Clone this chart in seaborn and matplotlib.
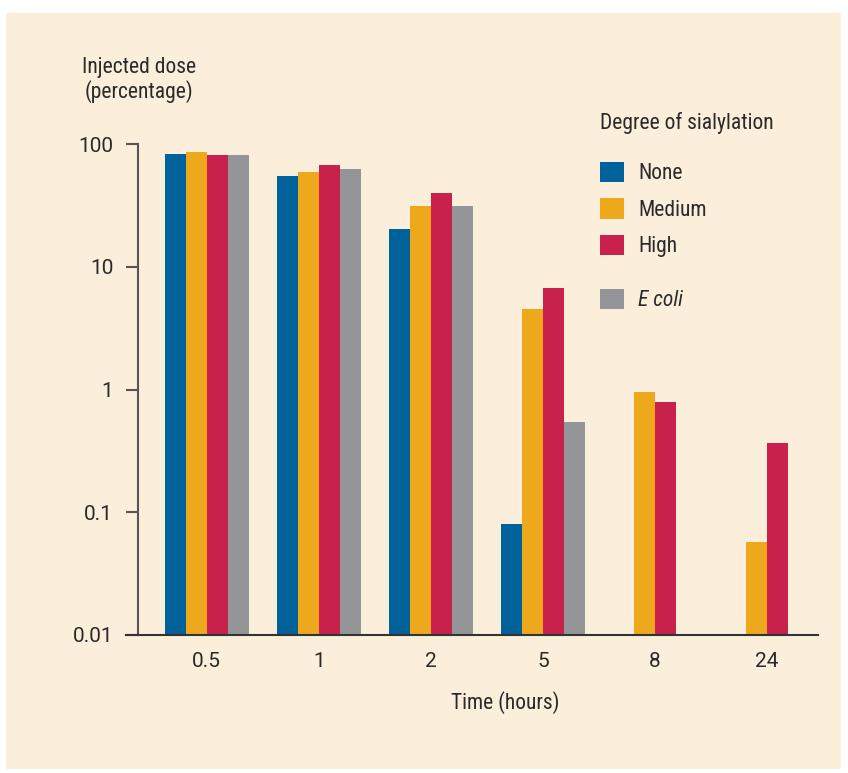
import numpy as np
import pandas as pd
import matplotlib
matplotlib.use("Agg")
import matplotlib.pyplot as plt
from matplotlib import font_manager
from matplotlib.patches import Patch, Rectangle
from matplotlib.ticker import NullLocator
import seaborn as sns

# Injected dose remaining (%) by time after injection and degree of sialylation
times = ["0.5", "1", "2", "5", "8", "24"]
groups = ["None", "Medium", "High", "E coli"]
none_vals = [83, 55, 20.3, 0.080, np.nan, np.nan]
medium_vals = [86, 59, 31, 4.5, 0.96, 0.057]
high_vals = [82, 67, 40, 6.7, 0.79, 0.37]
ecoli_vals = [81, 63, 31, 0.54, np.nan, np.nan]
y_ticks = [0.01, 0.1, 1, 10, 100]
y_tick_labels = ["0.01", "0.1", "1", "10", "100"]
colors = ["#00629B", "#EEA81B", "#C8214B", "#939598"]

CREAM = "#FBEEDA"
TEXT = "#2a2a2a"
AXIS = "#555555"

available = {f.name for f in font_manager.fontManager.ttflist}
family = next((f for f in ["Liberation Sans Narrow", "Roboto Condensed", "Liberation Sans"]
               if f in available), "DejaVu Sans")
num_family = "Roboto" if "Roboto" in available else "DejaVu Sans"

sns.set_style("white")
plt.rcParams["font.family"] = [family, "DejaVu Sans"]
FS = 15.5      # labels and legend
TICK_FS = 15   # tick labels
FS_PX = FS * 100 / 72

df = pd.DataFrame({
    "Time": times * len(groups),
    "Group": np.repeat(groups, len(times)),
    "Dose": none_vals + medium_vals + high_vals + ecoli_vals,
})

W, H = 848, 773
fig = plt.figure(figsize=(W / 100, H / 100), dpi=100, facecolor="white")
fig.add_artist(Rectangle((6 / W, 4 / H), 835 / W, 756 / H, transform=fig.transFigure,
                         facecolor=CREAM, edgecolor="none", zorder=-5))

ax = fig.add_axes([126 / W, 138 / H, 692 / W, 491 / H])
ax.patch.set_visible(False)

sns.barplot(data=df, x="Time", y="Dose", hue="Group", order=times, hue_order=groups,
            palette=colors, width=0.75, linewidth=0, saturation=1, errorbar=None,
            legend=False, ax=ax)

ax.set_yscale("log")
ax.set_ylim(0.01, 100)
ax.set_xlim(-0.72, 5.455)
ax.set_yticks(y_ticks, y_tick_labels)
ax.yaxis.set_minor_locator(NullLocator())

for s in ["top", "right"]:
    ax.spines[s].set_visible(False)
ax.spines["left"].set_position(("data", -0.617))
ax.spines["left"].set_color(AXIS)
ax.spines["left"].set_linewidth(1.5)
ax.spines["bottom"].set_color("#333333")
ax.spines["bottom"].set_linewidth(1.5)

ax.tick_params(axis="y", length=9, width=1.5, color=AXIS, pad=8.5,
               labelsize=TICK_FS, labelcolor=TEXT, left=True)
ax.tick_params(axis="x", length=0, pad=12, labelsize=TICK_FS, labelcolor=TEXT)
for lab in ax.get_xticklabels() + ax.get_yticklabels():
    lab.set_family([num_family, "DejaVu Sans"])

ax.set_ylabel("")
ax.set_xlabel("Time (hours)", fontsize=FS, color=TEXT)
ax.xaxis.set_label_coords((505 - 126) / 692, (635 - 703) / 491)
ax.xaxis.label.set_verticalalignment("center")

fig.text(139 / W, 1 - 80 / H, "Injected dose\n(percentage)", ha="center", va="center",
         multialignment="center", fontsize=FS, color=TEXT, linespacing=1.15)

# Legend
fig.text(600 / W, 1 - 123 / H, "Degree of sialylation", ha="left", va="center",
         fontsize=FS, color=TEXT)
common = dict(loc="upper left", frameon=False, borderpad=0, borderaxespad=0,
              handlelength=24 / FS_PX, handleheight=23 / FS_PX,
              handletextpad=14 / FS_PX, labelspacing=0.65, labelcolor=TEXT)
h1 = [Patch(facecolor=c, edgecolor="none") for c in colors[:3]]
fig.legend(h1, groups[:3], bbox_to_anchor=(600 / W, 1 - 162 / H), fontsize=FS, **common)
h2 = [Patch(facecolor=colors[3], edgecolor="none")]
fig.legend(h2, groups[3:], bbox_to_anchor=(600 / W, 1 - 289 / H),
           prop={"style": "italic", "size": FS}, **common)

fig.savefig("out.png", dpi=100, facecolor="white")
